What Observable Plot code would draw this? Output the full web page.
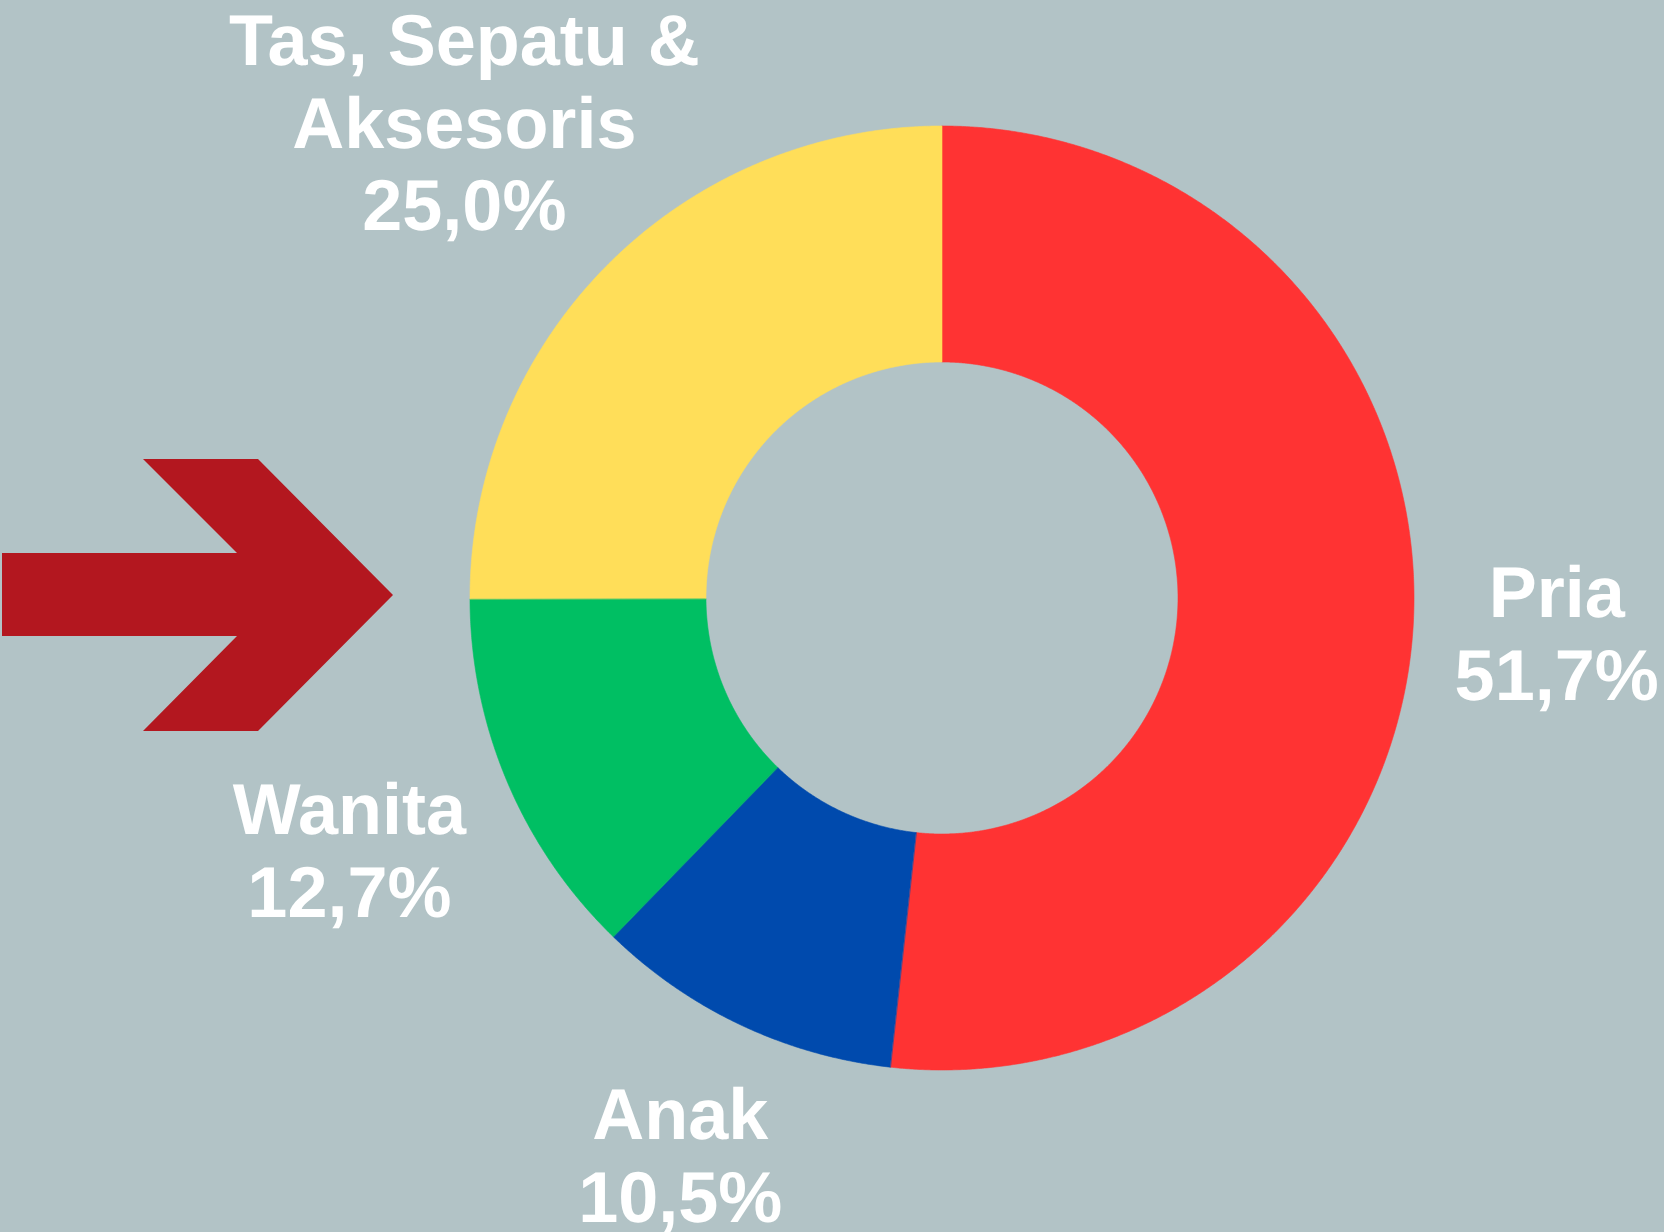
<!DOCTYPE html>
<html><head><meta charset="utf-8">
<script src="https://cdn.jsdelivr.net/npm/d3@7"></script>
<script src="https://cdn.jsdelivr.net/npm/@observablehq/plot@0.6"></script>
<style>
html,body{margin:0;padding:0;background:#B2C3C6;overflow:hidden;}
#chart{width:1664px;height:1232px;}
svg text{text-rendering:geometricPrecision;}
</style></head><body><div id="chart"></div>
<script>
// ---- data ----
const categories = ["Pria", "Anak", "Wanita", "Tas, Sepatu & Aksesoris"];
const nameLines = [["Pria"], ["Anak"], ["Wanita"], ["Tas, Sepatu &", "Aksesoris"]];
const values = [51.7, 10.5, 12.7, 25.0];
const valueLabels = ["51,7%", "10,5%", "12,7%", "25,0%"];
const colors = ["#FF3333", "#004AAD", "#00BF63", "#FFDE59"];

// ---- layout ----
const W = 1664, H = 1232;
const CX = 941.5, CY = 597.5, R = 472, INNER = 0.5;
const FONT = 72, LH = 1.15;
const BG = "#B2C3C6";

const total = d3.sum(values);
let cum = 0;
const slices = values.map((v, i) => {
  const a0 = 2 * Math.PI * cum / total;
  cum += v;
  const a1 = 2 * Math.PI * cum / total;
  return {name: categories[i], a0, a1, i};
});

// slice outlines in unit coordinates (y up), angle clockwise from 12 o'clock
const ring = [];
for (const s of slices) {
  const n = Math.max(2, Math.ceil((s.a1 - s.a0) / (Math.PI / 720)));
  for (let k = 0; k <= n; k++) {
    const a = s.a0 + (s.a1 - s.a0) * k / n;
    ring.push({name: s.name, x: Math.sin(a), y: Math.cos(a)});
  }
  for (let k = n; k >= 0; k--) {
    const a = s.a0 + (s.a1 - s.a0) * k / n;
    ring.push({name: s.name, x: INNER * Math.sin(a), y: INNER * Math.cos(a)});
  }
}

// label placement: box just outside the ring along the mid angle
const ctx = document.createElement("canvas").getContext("2d");
ctx.font = `bold ${FONT}px "Liberation Sans", Arial, sans-serif`;
const GAP = 510;
const labels = slices.map((s, i) => {
  const lines = [...nameLines[i], valueLabels[i]];
  const a = (s.a0 + s.a1) / 2;
  const w = d3.max(lines, l => ctx.measureText(l).width) / 2;
  const h = ((lines.length - 1) * LH * FONT + 0.716 * FONT) / 2;
  let d = GAP + Math.abs(Math.sin(a)) * w + Math.abs(Math.cos(a)) * h;
  let py = CY - d * Math.cos(a);
  if (py - h < 12 && Math.cos(a) > 0) d = (CY - 12 - h) / Math.cos(a);
  const px = CX + d * Math.sin(a);
  py = CY - d * Math.cos(a);
  return {text: lines.join("\n"), x: (px - CX) / R, y: (CY - py) / R};
});

const chart = Plot.plot({
  width: W, height: H,
  margin: 0,
  style: {background: BG, overflow: "visible"},
  x: {domain: [-1, 1], range: [CX - R, CX + R], axis: null},
  y: {domain: [-1, 1], range: [CY + R, CY - R], axis: null},
  color: {domain: categories, range: colors},
  marks: [
    Plot.line(ring, {x: "x", y: "y", z: "name", fill: "name", stroke: "name", strokeWidth: 0.6, curve: "linear-closed"}),
    Plot.text(labels, {x: "x", y: "y", text: "text", fill: "white", fontSize: FONT, fontWeight: "bold",
      fontFamily: '"Liberation Sans", Arial, sans-serif', lineHeight: LH, textAnchor: "middle"})
  ]
});

// decorative arrow (pixel space)
const arrow = [[2,553],[237,553],[143,459],[258,459],[393,595],[258,731],[143,731],[237,636],[2,636]];
d3.select(chart).insert("polygon", ":first-child")
  .attr("points", arrow.map(p => p.join(",")).join(" "))
  .attr("fill", "#B3171F");

document.getElementById("chart").appendChild(chart);
</script>
</body></html>
